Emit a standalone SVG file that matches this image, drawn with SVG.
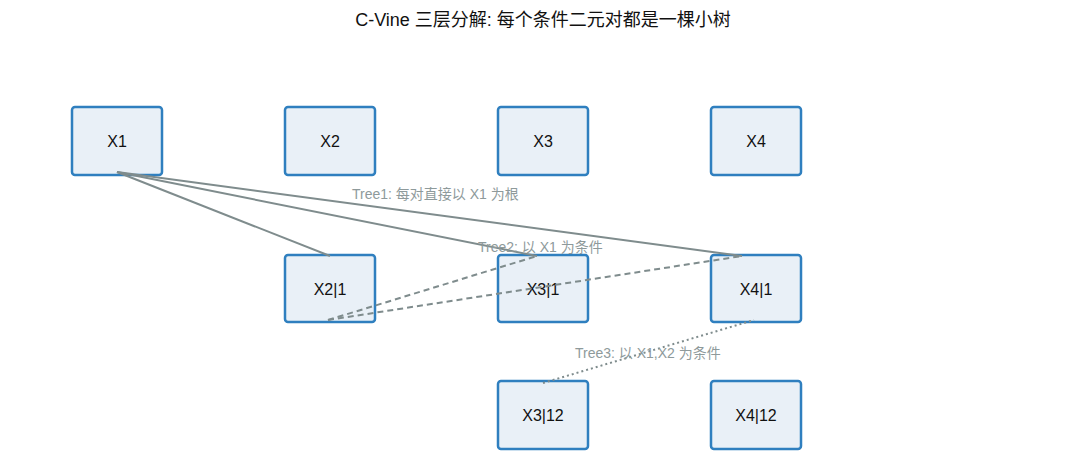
<svg xmlns="http://www.w3.org/2000/svg" width="1085" height="469" viewBox="0 0 1085 469">
<style>
.box{fill:#e9f0f7;stroke:#2f7fbf;stroke-width:2.5}
.lbl{font-family:"Liberation Sans","Noto Sans CJK SC",sans-serif;font-size:16px;fill:#111;text-anchor:middle;dominant-baseline:central}
.title{font-family:"Liberation Sans","Noto Sans CJK SC",sans-serif;font-size:18px;fill:#111;text-anchor:middle}
.el{font-family:"Liberation Sans","Noto Sans CJK SC",sans-serif;font-size:14px;fill:#8e9a9b}
.c{stroke:#7f8c8d;stroke-width:2;fill:none}
.d{stroke-dasharray:6,4}
.o{stroke-dasharray:2,3}
</style>
<rect width="1085" height="469" fill="#fff"/>
<text class="title" x="543" y="26">C-Vine 三层分解: 每个条件二元对都是一棵小树</text>
<g id="X1"><rect class="box" x="72" y="107" width="90" height="68" rx="3"/><text class="lbl" x="117" y="141">X1</text></g>
<g id="X2"><rect class="box" x="285" y="107" width="90" height="68" rx="3"/><text class="lbl" x="330" y="141">X2</text></g>
<g id="X3"><rect class="box" x="498" y="107" width="90" height="68" rx="3"/><text class="lbl" x="543" y="141">X3</text></g>
<g id="X4"><rect class="box" x="711" y="107" width="90" height="68" rx="3"/><text class="lbl" x="756" y="141">X4</text></g>
<g id="X2_1"><rect class="box" x="285" y="255" width="90" height="67" rx="3"/><text class="lbl" x="330" y="289">X2|1</text></g>
<g id="X3_1"><rect class="box" x="498" y="255" width="90" height="67" rx="3"/><text class="lbl" x="543" y="289">X3|1</text></g>
<g id="X4_1"><rect class="box" x="711" y="255" width="90" height="67" rx="3"/><text class="lbl" x="756" y="289">X4|1</text></g>
<g id="X3_12"><rect class="box" x="498" y="381" width="90" height="68" rx="3"/><text class="lbl" x="543" y="415">X3|12</text></g>
<g id="X4_12"><rect class="box" x="711" y="381" width="90" height="68" rx="3"/><text class="lbl" x="756" y="415">X4|12</text></g>
<g id="connectors">
<line class="c" x1="117" y1="172" x2="330" y2="256"/>
<line class="c" x1="117" y1="172" x2="537" y2="256"/>
<line class="c" x1="117" y1="172" x2="742" y2="256"/>
<line class="c d" x1="328" y1="320" x2="537" y2="256"/>
<line class="c d" x1="328" y1="320" x2="742" y2="256"/>
<line class="c o" x1="543" y1="383" x2="754" y2="320"/>
<text class="el" x="352" y="199">Tree1: 每对直接以 X1 为根</text>
<text class="el" x="478" y="252">Tree2: 以 X1 为条件</text>
<text class="el" x="575" y="358">Tree3: 以 X1,X2 为条件</text>
</g>
</svg>
